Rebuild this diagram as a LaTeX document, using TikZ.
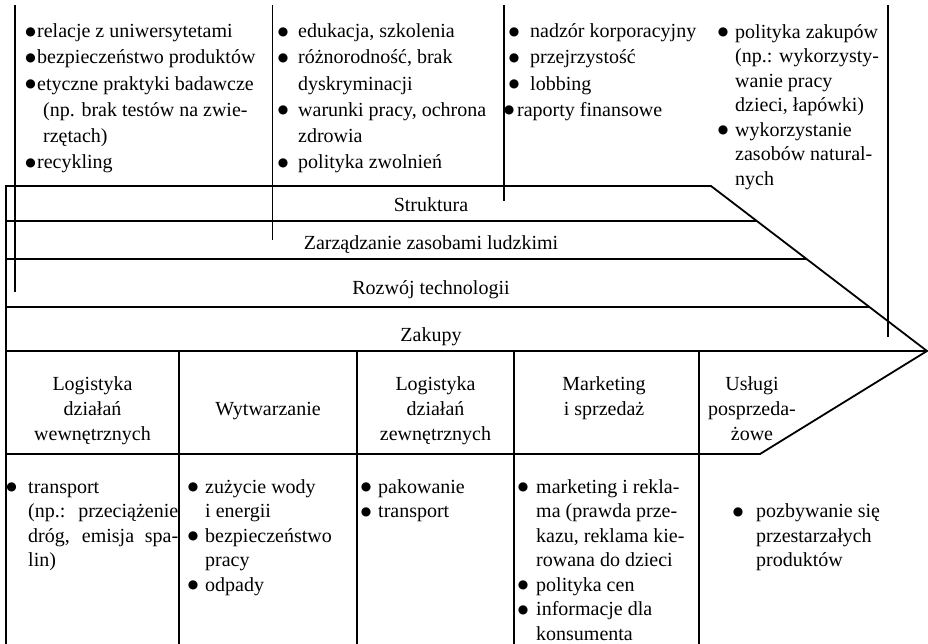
\documentclass[tikz,border=0pt]{standalone}
\usepackage{fontspec}
\setmainfont{Liberation Serif}
\newfontfamily\dotfont{DejaVu Sans}
\usetikzlibrary{calc}
% round bullet set in a box of the given width, so the item text starts right after it
\newcommand\bul[1]{\makebox[#1][l]{\hspace*{-0.8pt}\raisebox{2.4pt}{\dotfont\fontsize{12}{12}\selectfont ●}}}
\begin{document}
\begin{tikzpicture}[x=1pt,y=-1pt,
  frame/.style={line width=1.8pt,line cap=butt,line join=miter},
  bandlabel/.style={anchor=base,inner sep=0pt,font=\fontsize{20}{25}\selectfont},
  activity/.style={anchor=north,align=center,inner sep=0pt,font=\fontsize{20}{25}\selectfont},
  toplist/.style={anchor=north west,align=left,inner sep=0pt,font=\fontsize{20}{26.2}\selectfont},
  toplistb/.style={anchor=north west,align=left,inner sep=0pt,font=\fontsize{20}{24.5}\selectfont},
  lowlist/.style={anchor=north west,align=left,inner sep=0pt,font=\fontsize{20}{24.5}\selectfont}]
\useasboundingbox (0,0) rectangle (928,644);

% outline of the value chain arrow
\coordinate (nw) at (6,186);
\coordinate (ne) at (711,186);
\coordinate (tip) at (927,351);
\coordinate (se) at (760,454);
\coordinate (sw) at (6,454);
\coordinate (bl) at (6,646);

\draw[frame] (bl) -- (nw) -- (ne) -- (tip) -- (se) -- (sw);

% support activity bands
\coordinate (r1) at ($(ne)!{35/165}!(tip)$);
\coordinate (r2) at ($(ne)!{73/165}!(tip)$);
\coordinate (r3) at ($(ne)!{121/165}!(tip)$);
\draw[frame] (6,221) -- (r1 |- 0,221);
\draw[frame] (6,259) -- (r2 |- 0,259);
\draw[frame] (6,307) -- (r3 |- 0,307);
\draw[frame] (6,351) -- (tip);

% primary activity columns, continued downward
\foreach \cx [count=\i] in {179,357,514,699}{
  \coordinate (ct\i) at (\cx,351);
  \coordinate (cb\i) at (\cx,646);
  \draw[frame] (ct\i) -- (cb\i);
}

% leaders from the issue lists into the bands
\coordinate (l1a) at (15,5);    \coordinate (l1b) at (15,292);
\coordinate (l2a) at (272.5,5); \coordinate (l2b) at (272.5,240);
\coordinate (l3a) at (504,5);   \coordinate (l3b) at (504,201);
\coordinate (l4a) at (888,5);   \coordinate (l4b) at (888,337);
\draw[frame] (l1a) -- (l1b);
\draw[frame] (l2a) -- (l2b);
\draw[frame] (l3a) -- (l3b);
\draw[frame] (l4a) -- (l4b);

% band labels
\node[bandlabel] (struktura) at (431,212) {Struktura};
\node[bandlabel] (hr) at (431,250) {Zarządzanie zasobami ludzkimi};
\node[bandlabel] (tech) at (431,294) {Rozwój technologii};
\node[bandlabel] (zakupy) at (431,341) {Zakupy};

% primary activities
\node[activity] (logwew) at (92.5,372.5) {\strut Logistyka\\działań\\wewnętrznych};
\node[activity] (wytw) at (268,397.5) {\strut Wytwarzanie};
\node[activity] (logzew) at (435.5,372.5) {\strut Logistyka\\działań\\zewnętrznych};
\node[activity] (mark) at (604,372.5) {\strut Marketing\\i sprzedaż};
\node[activity] (uslugi) at (752,372.5) {\strut Usługi\\posprzeda-\\żowe};

% issues of the support activities
\node[toplist] (techlist) at (26,19.2) {\strut\bul{11pt}relacje z uniwersytetami\\
\bul{11pt}bezpieczeństwo produktów\\
\bul{11pt}etyczne praktyki badawcze\\
\hspace*{17pt}(np. brak testów na zwie-\\
\hspace*{17pt}rzętach)\\
\bul{11pt}recykling};

\node[toplist] (hrlist) at (278.5,19.2) {\strut\bul{19.5pt}edukacja, szkolenia\\
\bul{19.5pt}różnorodność, brak\\
\hspace*{19.5pt}dyskryminacji\\
\bul{19.5pt}warunki pracy, ochrona\\
\hspace*{19.5pt}zdrowia\\
\bul{19.5pt}polityka zwolnień};

\node[toplist] (strlist) at (509.5,19.2) {\strut\bul{20.5pt}nadzór korporacyjny\\
\bul{20.5pt}przejrzystość\\
\bul{20.5pt}lobbing\\
\hspace*{-5pt}\bul{12.5pt}raporty finansowe};

\node[toplistb] (buylist) at (718.5,20.85) {\strut\bul{16.5pt}polityka zakupów\\
\hspace*{16.5pt}(np.: wykorzysty-\\
\hspace*{16.5pt}wanie pracy\\
\hspace*{16.5pt}dzieci, łapówki)\\
\bul{16.5pt}wykorzystanie\\
\hspace*{16.5pt}zasobów natural-\\
\hspace*{16.5pt}nych};

% issues of the primary activities
\node[lowlist] (inlist) at (7,475.85) {\strut\bul{21pt}transport\\
\hspace*{21pt}\makebox[150pt][s]{(np.: przeciążenie}\\
\hspace*{21pt}\makebox[150pt][s]{dróg, emisja spa-}\\
\hspace*{21pt}lin)};

\node[lowlist] (prodlist) at (188.5,475.85) {\strut\bul{16.5pt}zużycie wody\\
\hspace*{16.5pt}i energii\\
\bul{16.5pt}bezpieczeństwo\\
\hspace*{16.5pt}pracy\\
\bul{16.5pt}odpady};

\node[lowlist] (outlist) at (361.5,475.85) {\strut\bul{16.5pt}pakowanie\\
\bul{16.5pt}transport};

\node[lowlist] (marklist) at (518.5,475.85) {\strut\bul{17.5pt}marketing i rekla-\\
\hspace*{17.5pt}ma (prawda prze-\\
\hspace*{17.5pt}kazu, reklama kie-\\
\hspace*{17.5pt}rowana do dzieci\\
\bul{17.5pt}polityka cen\\
\bul{17.5pt}informacje dla\\
\hspace*{17.5pt}konsumenta};

\node[lowlist] (servlist) at (733.5,500.35) {\strut\bul{22.5pt}pozbywanie się\\
\hspace*{22.5pt}przestarzałych\\
\hspace*{22.5pt}produktów};
\end{tikzpicture}
\end{document}
